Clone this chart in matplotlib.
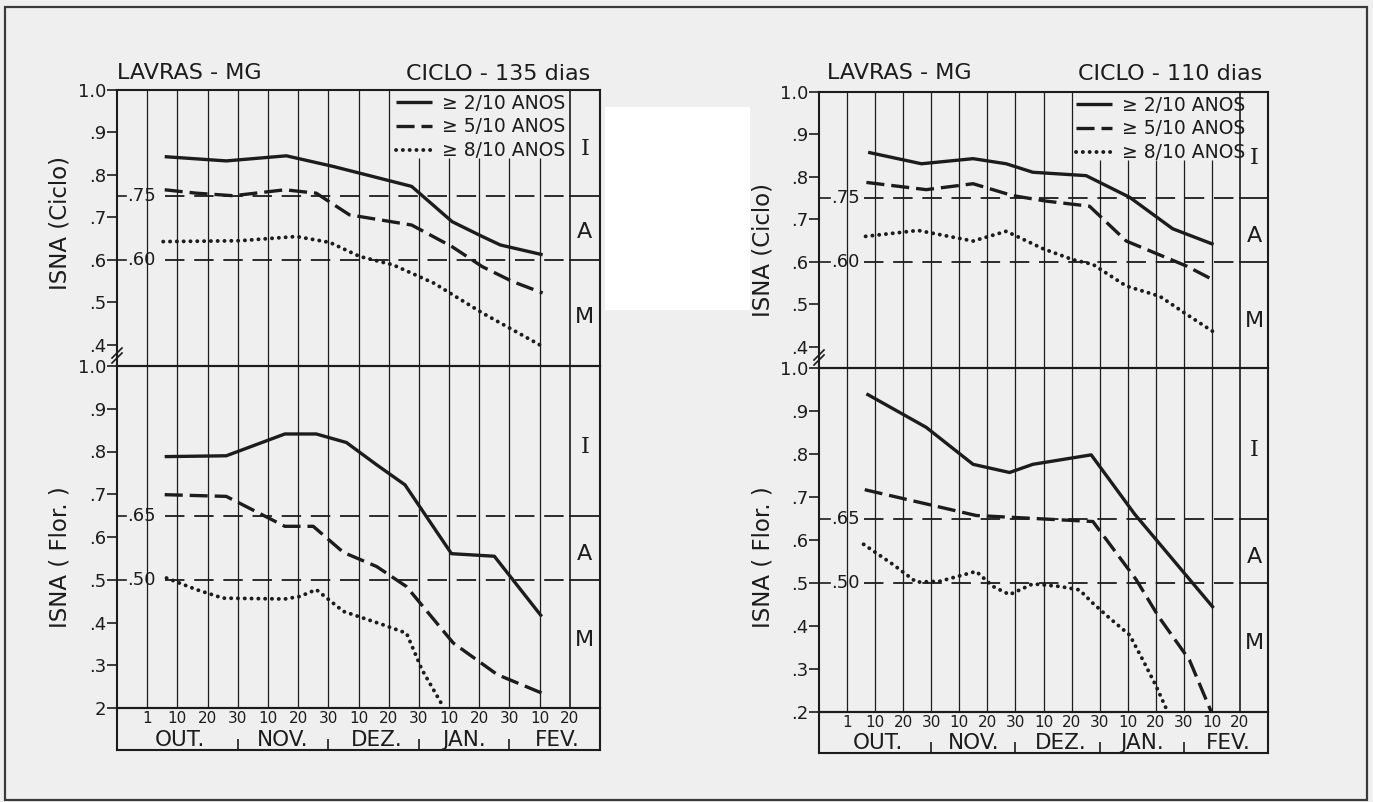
import matplotlib
matplotlib.use("Agg")
import matplotlib.pyplot as plt
from matplotlib.patches import Rectangle
from matplotlib.lines import Line2D

plt.rcParams['font.family'] = ['DejaVu Sans']
plt.rcParams['lines.scale_dashes'] = False

W, H = 1373, 802
BG = '#efefef'
INK = '#1c1c1c'

# --- data (x = position on the decade grid, 1 = OUT 1, 2 = OUT 10, ...) ---
DAY_LABELS = ["1", "10", "20", "30", "10", "20", "30", "10", "20", "30",
              "10", "20", "30", "10", "20"]
MONTHS = ["OUT.", "NOV.", "DEZ.", "JAN.", "FEV."]
MONTH_POS = [2.1, 5.5, 8.6, 11.5, 14.6]
MONTH_SEPS = [4, 7, 10, 13]
LEGEND_LABELS = ["≥ 2/10 ANOS", "≥ 5/10 ANOS", "≥ 8/10 ANOS"]

CICLO_LIMITS = [0.75, 0.60]
FLOR_LIMITS = [0.65, 0.50]

# Lavras, ciclo 135 dias
L135_CICLO_2_X = [1.58, 3.62, 5.61, 7.16, 8.27, 9.76, 11.1, 12.1, 12.7, 14.1]
L135_CICLO_2_Y = [0.843, 0.833, 0.845, 0.820, 0.800, 0.773, 0.690, 0.655, 0.635, 0.612]
L135_CICLO_5_X = [1.58, 2.63, 3.85, 5.56, 6.6, 7.7, 9.76, 11.1, 12.1, 13.1, 14.1]
L135_CICLO_5_Y = [0.765, 0.757, 0.751, 0.765, 0.757, 0.706, 0.682, 0.631, 0.584, 0.549, 0.522]
L135_CICLO_8_X = [1.53, 4.07, 5.94, 7.05, 8.04, 9.15, 10.5, 12.1, 14.1]
L135_CICLO_8_Y = [0.643, 0.645, 0.655, 0.641, 0.608, 0.588, 0.545, 0.475, 0.396]

L135_FLOR_2_X = [1.58, 3.62, 5.56, 6.6, 7.6, 8.6, 9.54, 11.08, 12.5, 14.07]
L135_FLOR_2_Y = [0.788, 0.790, 0.841, 0.841, 0.821, 0.769, 0.722, 0.561, 0.555, 0.414]
L135_FLOR_5_X = [1.58, 3.62, 5.56, 6.5, 7.5, 8.6, 9.59, 11.14, 12.6, 14.07]
L135_FLOR_5_Y = [0.699, 0.695, 0.625, 0.625, 0.564, 0.531, 0.484, 0.352, 0.278, 0.235]
L135_FLOR_8_X = [1.64, 2.63, 3.51, 5.56, 6.06, 6.6, 7.5, 8.8, 9.59, 10.1, 10.75]
L135_FLOR_8_Y = [0.504, 0.477, 0.457, 0.455, 0.461, 0.477, 0.426, 0.395, 0.375, 0.290, 0.210]

# Lavras, ciclo 110 dias
R110_CICLO_2_X = [1.75, 3.65, 5.49, 6.67, 7.62, 9.52, 11.07, 12.6, 14.06]
R110_CICLO_2_Y = [0.858, 0.831, 0.843, 0.831, 0.811, 0.803, 0.752, 0.678, 0.641]
R110_CICLO_5_X = [1.69, 3.82, 5.49, 6.9, 8.1, 9.64, 10.95, 13.1, 14.06]
R110_CICLO_5_Y = [0.787, 0.770, 0.784, 0.756, 0.743, 0.731, 0.649, 0.590, 0.557]
R110_CICLO_8_X = [1.66, 3.53, 5.49, 6.67, 7.98, 9.05, 9.76, 10.95, 12.14, 13.2, 14.06]
R110_CICLO_8_Y = [0.660, 0.674, 0.649, 0.672, 0.631, 0.605, 0.594, 0.543, 0.519, 0.472, 0.435]

R110_FLOR_2_X = [1.69, 3.82, 5.49, 6.79, 7.62, 9.7, 11.25, 14.06]
R110_FLOR_2_Y = [0.940, 0.862, 0.776, 0.757, 0.776, 0.798, 0.660, 0.442]
R110_FLOR_5_X = [1.63, 5.6, 9.76, 11.3, 12.1, 13.2, 13.98]
R110_FLOR_5_Y = [0.717, 0.657, 0.643, 0.508, 0.422, 0.321, 0.200]
R110_FLOR_8_X = [1.59, 2.64, 3.47, 4.3, 5.6, 6.2, 6.79, 7.62, 8.57, 9.28, 9.76,
                 10.36, 11.07, 11.54, 12.0, 12.4]
R110_FLOR_8_Y = [0.590, 0.543, 0.502, 0.504, 0.527, 0.492, 0.473, 0.498, 0.492, 0.484,
                 0.453, 0.418, 0.379, 0.321, 0.262, 0.204]

CICLO_TICKS = [1.0, 0.9, 0.8, 0.7, 0.6, 0.5, 0.4]
CICLO_TICKLABELS = ["1.0", ".9", ".8", ".7", ".6", ".5", ".4"]
FLOR_TICKS = [1.0, 0.9, 0.8, 0.7, 0.6, 0.5, 0.4, 0.3, 0.2]
FLOR_TICKLABELS_L = ["1.0", ".9", ".8", ".7", ".6", ".5", ".4", ".3", "2"]
FLOR_TICKLABELS_R = ["1.0", ".9", ".8", ".7", ".6", ".5", ".4", ".3", ".2"]

STYLES = [
    dict(ls='-', lw=2.4, solid_capstyle='butt'),
    dict(ls=(0, (13, 5)), lw=2.4, dash_capstyle='butt'),
    dict(ls=(0, (0.1, 4.8)), lw=2.8, dash_capstyle='round'),
]


def fx(px):
    return px / W


def fy(py):
    return 1 - py / H


def px_axes(fig, x0, x1, y0, y1):
    ax = fig.add_axes([fx(x0), fy(y1), (x1 - x0) / W, (y1 - y0) / H])
    ax.set_facecolor('none')
    for s in ax.spines.values():
        s.set_linewidth(1.5)
        s.set_color(INK)
    return ax


def style_plot_axes(ax, ylim, ticks, ticklabels):
    ax.set_xlim(0, 16)
    ax.set_ylim(*ylim)
    ax.set_xticks([])
    ax.set_yticks(ticks)
    ax.set_yticklabels(ticklabels)
    ax.tick_params(axis='y', direction='out', length=7, width=1.2,
                   labelsize=13, pad=1, colors=INK)


def draw_limits(ax, limits, labels, tick_len, dash_start):
    for v, lab in zip(limits, labels):
        ax.plot([0, tick_len], [v, v], color=INK, lw=1.2, zorder=3)
        ax.text(tick_len + 0.02, v, lab, ha='left', va='center', fontsize=13, color=INK)
        ax.plot([dash_start, 15], [v, v], color=INK, lw=1.3, ls=(0, (14, 7)), zorder=3)
        ax.plot([15, 16], [v, v], color=INK, lw=1.3, zorder=3)


def draw_zones(ax, ys):
    for lab, v in zip(['I', 'A', 'M'], ys):
        fam = 'DejaVu Serif' if lab == 'I' else 'DejaVu Sans'
        ax.text(15.5, v, lab, ha='center', va='center', fontsize=16, color=INK, family=fam)


def draw_panel(fig, x0, x1, yt, ym, yb, ybox, ciclo, flor, cycle_text,
               title_left_px, title_right_px, ylab_x, ylab_ys, flor_labels,
               tick_len, legend_x, zones_c, zones_f):
    # top: ISNA (Ciclo)
    ax1 = px_axes(fig, x0, x1, yt, ym)
    style_plot_axes(ax1, (0.35, 1.0), CICLO_TICKS, CICLO_TICKLABELS)
    ax1.vlines(range(1, 10), 0.35, 1.0, color=INK, lw=0.9, zorder=1)
    ax1.vlines(range(10, 15), 0.35, 0.84, color=INK, lw=0.9, zorder=1)
    ax1.vlines([15], 0.35, 1.0, color=INK, lw=1.2, zorder=1)
    draw_limits(ax1, CICLO_LIMITS, [".75", ".60"], tick_len, 1.6)
    handles = []
    for (xs, ys), st in zip(ciclo, STYLES):
        ln, = ax1.plot(xs, ys, color=INK, zorder=4, **st)
        handles.append(ln)
    leg = ax1.legend(handles, LEGEND_LABELS, loc='upper left', bbox_to_anchor=(legend_x, 1.0),
                     frameon=False, fontsize=13.5, handlelength=1.9, handletextpad=0.55,
                     labelspacing=0.25, borderaxespad=0.05, borderpad=0.15)
    for t in leg.get_texts():
        t.set_color(INK)
    draw_zones(ax1, zones_c)

    # break mark on the left spine
    for dy in (0, 5):
        fig.add_artist(Line2D([fx(x0 - 5), fx(x0 + 5)], [fy(ym - 3 - dy), fy(ym - 13 - dy)],
                              color=INK, lw=1.2))

    # bottom: ISNA (Flor.)
    ax2 = px_axes(fig, x0, x1, ym, yb)
    style_plot_axes(ax2, (0.2, 1.0), FLOR_TICKS, flor_labels)
    ax2.vlines(range(1, 15), 0.2, 1.0, color=INK, lw=0.9, zorder=1)
    ax2.vlines([15], 0.2, 1.0, color=INK, lw=1.2, zorder=1)
    draw_limits(ax2, FLOR_LIMITS, [".65", ".50"], tick_len, 1.6)
    for (xs, ys), st in zip(flor, STYLES):
        ax2.plot(xs, ys, color=INK, zorder=4, **st)
    draw_zones(ax2, zones_f)

    # label box with days and months
    ax3 = px_axes(fig, x0, x1, yb, ybox)
    ax3.set_xlim(0, 16)
    ax3.set_ylim(0, 1)
    ax3.set_xticks([])
    ax3.set_yticks([])
    for i, lab in enumerate(DAY_LABELS, start=1):
        ax3.text(i, 0.74, lab, ha='center', va='center', fontsize=11, color=INK)
    for pos, lab in zip(MONTH_POS, MONTHS):
        ax3.text(pos, 0.25, lab, ha='center', va='center', fontsize=15.5, color=INK)
    ax3.vlines(MONTH_SEPS, 0, 0.26, color=INK, lw=1.2)

    # titles and y labels
    fig.text(fx(title_left_px), fy(73), "LAVRAS - MG", ha='left', va='center',
             fontsize=16, color=INK)
    fig.text(fx(title_right_px), fy(74), cycle_text, ha='right', va='center',
             fontsize=16, color=INK)
    fig.text(fx(ylab_x), fy(ylab_ys[0]), "ISNA (Ciclo)", rotation=90, ha='center',
             va='center', fontsize=16.5, color=INK)
    fig.text(fx(ylab_x), fy(ylab_ys[1]), "ISNA ( Flor. )", rotation=90, ha='center',
             va='center', fontsize=16.5, color=INK)


fig = plt.figure(figsize=(W / 100, H / 100), dpi=100)
fig.patch.set_facecolor(BG)

draw_panel(fig, 117, 600, 90, 366, 708, 750,
           [(L135_CICLO_2_X, L135_CICLO_2_Y), (L135_CICLO_5_X, L135_CICLO_5_Y),
            (L135_CICLO_8_X, L135_CICLO_8_Y)],
           [(L135_FLOR_2_X, L135_FLOR_2_Y), (L135_FLOR_5_X, L135_FLOR_5_Y),
            (L135_FLOR_8_X, L135_FLOR_8_Y)],
           "CICLO - 135 dias", 117, 590, 60, (223, 557), FLOR_TICKLABELS_L,
           0.3, 0.57, (0.86, 0.665, 0.465), (0.81, 0.56, 0.36))

draw_panel(fig, 819, 1268, 92, 368, 712, 753,
           [(R110_CICLO_2_X, R110_CICLO_2_Y), (R110_CICLO_5_X, R110_CICLO_5_Y),
            (R110_CICLO_8_X, R110_CICLO_8_Y)],
           [(R110_FLOR_2_X, R110_FLOR_2_Y), (R110_FLOR_5_X, R110_FLOR_5_Y),
            (R110_FLOR_8_X, R110_FLOR_8_Y)],
           "CICLO - 110 dias", 827, 1262, 763, (250, 557), FLOR_TICKLABELS_R,
           0.4, 0.565, (0.845, 0.66, 0.46), (0.81, 0.56, 0.36))

# blank patch in the scan and the outer frame
fig.add_artist(Rectangle((fx(605), fy(310)), 145 / W, 203 / H, transform=fig.transFigure,
                         facecolor='white', edgecolor='none', zorder=0))
fig.add_artist(Rectangle((fx(5), fy(800)), 1362 / W, 793 / H, transform=fig.transFigure,
                         fill=False, edgecolor='#3a3a3a', lw=1.6))

fig.savefig("out.png", dpi=100, facecolor=fig.get_facecolor())
